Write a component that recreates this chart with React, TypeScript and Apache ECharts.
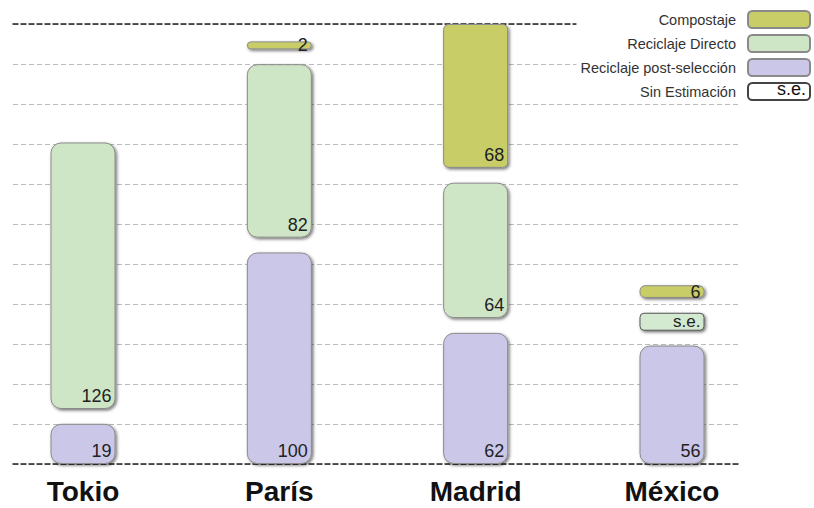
import React, { useEffect, useRef } from "react";
import * as echarts from "echarts";

const categories = ["Tokio", "París", "Madrid", "México"];
const postSeleccion: (number | null)[] = [19, 100, 62, 56];
const directo: (number | null)[] = [126, 82, 64, null];
const sinEstimacion: (number | null)[] = [null, null, null, 8.5];
const compostaje: (number | null)[] = [null, 2, 68, 6];
const GAP = 7;
const gridLines = 11;
const legendNames = ["Compostaje", "Reciclaje Directo", "Reciclaje post-selección", "Sin Estimación"];

const gap1 = categories.map((_, i) =>
  postSeleccion[i] != null && (directo[i] != null || sinEstimacion[i] != null || compostaje[i] != null) ? GAP : null
);
const gap2 = categories.map((_, i) =>
  (directo[i] != null || sinEstimacion[i] != null) && compostaje[i] != null ? GAP : null
);
const totals = categories.map((_, i) =>
  [postSeleccion, gap1, directo, sinEstimacion, gap2, compostaje].reduce((s, a) => s + (a[i] ?? 0), 0)
);
const maxTotal = Math.max(...totals);

const FONT = "Liberation Sans, Arial, sans-serif";

export default function App() {
  const ref = useRef<HTMLDivElement>(null);
  useEffect(() => {
    if (!ref.current) return;
    const chart = echarts.init(ref.current, null, { renderer: "svg" });
    const barStyle = (color: string) => ({
      color,
      borderColor: "#8a8a8a",
      borderWidth: 1,
      borderRadius: 10,
      shadowBlur: 3,
      shadowColor: "rgba(0,0,0,0.55)",
      shadowOffsetX: 1.5,
      shadowOffsetY: 1.5,
    });
    const valueLabel = {
      show: true,
      position: "insideBottomRight" as const,
      distance: 4,
      fontSize: 18,
      color: "#222",
      fontFamily: FONT,
      formatter: (p: any) => (p.value == null ? "" : String(p.value)),
    };
    const common = {
      type: "bar" as const,
      stack: "total",
      xAxisIndex: 1,
      yAxisIndex: 1,
      barWidth: 65,
    };
    const blackDashed = { show: true, lineStyle: { color: "#222", type: [5, 3], width: 1.5 } };
    chart.setOption({
      animation: false,
      textStyle: { fontFamily: FONT },
      grid: [
        { left: 13, right: 74, top: 24, bottom: 44 },
        { left: 83, right: 142, top: 24, bottom: 44 },
      ],
      xAxis: [
        {
          gridIndex: 0,
          type: "value",
          position: "bottom",
          axisLine: blackDashed,
          axisTick: { show: false },
          axisLabel: { show: false },
          splitLine: { show: false },
        },
        {
          gridIndex: 1,
          type: "category",
          data: categories,
          boundaryGap: false,
          axisLine: { show: false },
          axisTick: { show: false },
          axisLabel: { fontSize: 28, fontWeight: "bold", color: "#111", margin: 13, fontFamily: FONT },
        },
        {
          gridIndex: 0,
          type: "value",
          position: "top",
          axisLine: blackDashed,
          axisTick: { show: false },
          axisLabel: { show: false },
          splitLine: { show: false },
        },
      ],
      yAxis: [
        {
          gridIndex: 0,
          type: "value",
          min: 0,
          max: gridLines,
          interval: 1,
          axisLine: { show: false },
          axisTick: { show: false },
          axisLabel: { show: false },
          splitLine: { show: true, lineStyle: { color: "#bbb", type: [5, 3], width: 1 } },
        },
        {
          gridIndex: 1,
          type: "value",
          min: 0,
          max: maxTotal,
          show: false,
          splitLine: { show: false },
        },
      ],
      legend: {
        orient: "vertical",
        align: "right",
        right: 0,
        top: 0,
        padding: [10, 3, 2, 4],
        itemGap: 5,
        itemWidth: 62,
        itemHeight: 17,
        backgroundColor: "#fff",
        textStyle: { fontSize: 14.5, color: "#333", padding: [0, 7, 0, 0], fontFamily: FONT },
        data: legendNames.map((n) =>
          n === "Sin Estimación" ? { name: n, itemStyle: { color: "#fff", borderColor: "#444" } } : n
        ),
        z: 10,
      },
      graphic: [
        {
          type: "text",
          right: 8,
          top: 80,
          z: 20,
          style: { text: "s.e.", fontSize: 18, fill: "#111", fontFamily: FONT },
        },
      ],
      series: [
        {
          ...common,
          name: "Reciclaje post-selección",
          data: postSeleccion,
          itemStyle: barStyle("#cac7e9"),
          label: valueLabel,
        },
        {
          ...common,
          name: "gap1",
          data: gap1,
          itemStyle: { color: "transparent" },
          silent: true,
        },
        {
          ...common,
          name: "Reciclaje Directo",
          data: directo,
          itemStyle: barStyle("#cfe6c6"),
          label: valueLabel,
        },
        {
          ...common,
          name: "Sin Estimación",
          data: sinEstimacion,
          itemStyle: { ...barStyle("#d3ead0"), borderRadius: 4, borderColor: "#555" },
          label: { ...valueLabel, position: "insideRight", fontSize: 17, formatter: "s.e." },
        },
        {
          ...common,
          name: "gap2",
          data: gap2,
          itemStyle: { color: "transparent" },
          silent: true,
        },
        {
          ...common,
          name: "Compostaje",
          data: compostaje.map((v) =>
            v != null && v < 10 ? { value: v, label: { position: "insideRight" } } : v
          ),
          barMinHeight: 8,
          itemStyle: { ...barStyle("#c8cd68"), borderRadius: 5 },
          label: valueLabel,
        },
      ],
    });
    return () => chart.dispose();
  }, []);
  return (
    <div
      ref={ref}
      style={{ position: "absolute", left: 0, top: 0, width: 814, height: 508 }}
    />
  );
}
